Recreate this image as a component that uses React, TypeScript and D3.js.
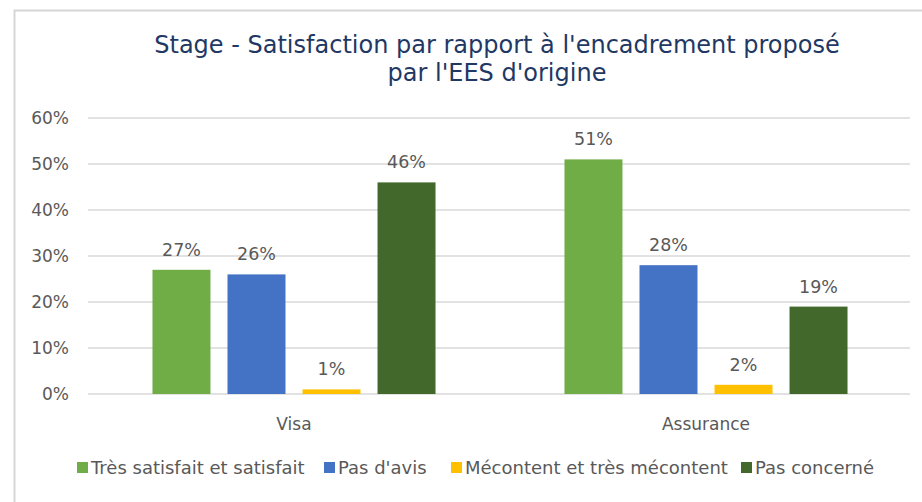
import React from 'react';
import * as d3 from 'd3';

const categories = ['Visa', 'Assurance'];
const seriesNames = [
  'Très satisfait et satisfait',
  "Pas d'avis",
  'Mécontent et très mécontent',
  'Pas concerné',
];
const seriesColors = ['#70AD47', '#4472C4', '#FFC000', '#43682B'];
// values in %, one array per series (Visa, Assurance)
const tresSatisfait = [27, 51];
const pasDAvis = [26, 28];
const mecontent = [1, 2];
const pasConcerne = [46, 19];
const yTicks = [0, 10, 20, 30, 40, 50, 60];
const titleLines = ["Stage - Satisfaction par rapport à l'encadrement proposé", "par l'EES d'origine"];

const W = 922;
const H = 502;
const FONT = "'DejaVu Sans', Verdana, sans-serif";

const App: React.FC = () => {
  const values = [tresSatisfait, pasDAvis, mecontent, pasConcerne];

  const x0 = d3.scaleBand<string>()
    .domain(categories)
    .range([88, 912])
    .paddingInner(0.313)
    .paddingOuter(0.1565);
  const x1 = d3.scaleBand<string>()
    .domain(seriesNames)
    .range([0, x0.bandwidth()])
    .paddingInner(0.227)
    .paddingOuter(0);
  const y = d3.scaleLinear().domain([0, 60]).range([394, 118]);

  // legend item starts (square left edge)
  const legendX = [77, 324, 451, 741];

  return (
    <svg width={W} height={H} style={{ position: 'absolute', left: 0, top: 0, background: '#fff' }}>
      <rect x={14.5} y={10.5} width={1000} height={600} fill="#fff" stroke="#d6d6d6" strokeWidth={2} />

      {titleLines.map((t, i) => (
        <text key={i} x={497} y={53 + i * 28} textAnchor="middle" fontFamily={FONT} fontSize={24} fill="#1F3864">
          {t}
        </text>
      ))}

      {yTicks.map(t => (
        <g key={t}>
          <line x1={88} x2={910} y1={y(t)} y2={y(t)} stroke="#d9d9d9" strokeWidth={1.5} />
          <text x={69} y={y(t)} dy="0.36em" textAnchor="end" fontFamily={FONT} fontSize={17} fill="#595959">
            {t}%
          </text>
        </g>
      ))}

      {categories.map((c, ci) => (
        <g key={c} transform={`translate(${x0(c)},0)`}>
          {seriesNames.map((s, si) => {
            const v = values[si][ci];
            const bx = x1(s)!;
            return (
              <g key={s}>
                <rect x={bx} y={y(v)} width={x1.bandwidth()} height={y(0) - y(v)} fill={seriesColors[si]} />
                <text x={bx + x1.bandwidth() / 2} y={y(v) - 14} textAnchor="middle" fontFamily={FONT} fontSize={17.5} fill="#595959">
                  {v}%
                </text>
              </g>
            );
          })}
          <text x={x0.bandwidth() / 2} y={430} textAnchor="middle" fontFamily={FONT} fontSize={17} fill="#595959">
            {c}
          </text>
        </g>
      ))}

      {seriesNames.map((s, i) => (
        <g key={s} transform={`translate(${legendX[i]},0)`}>
          <rect x={0} y={462} width={11} height={11} fill={seriesColors[i]} />
          <text x={14} y={474} fontFamily={FONT} fontSize={18} fill="#595959">
            {s}
          </text>
        </g>
      ))}
    </svg>
  );
};

export default App;
